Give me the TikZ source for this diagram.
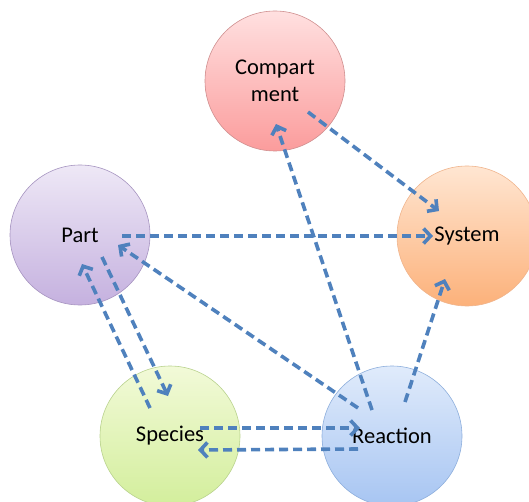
\documentclass[tikz,border=0pt]{standalone}
\usepackage{fontspec}
\setmainfont{Carlito}
\usetikzlibrary{arrows.meta,calc}

\definecolor{linkblue}{HTML}{4F81BD}
% fills (top / bottom of each gradient) and outlines
\definecolor{compTop}{HTML}{FFE0E0}
\definecolor{compBot}{HTML}{FB9C9C}
\definecolor{compLine}{HTML}{CF8F8F}
\definecolor{partTop}{HTML}{EEE8F6}
\definecolor{partBot}{HTML}{C5B1DF}
\definecolor{partLine}{HTML}{A694C0}
\definecolor{sysTop}{HTML}{FFE6D2}
\definecolor{sysBot}{HTML}{FCB17A}
\definecolor{sysLine}{HTML}{F0B48C}
\definecolor{specTop}{HTML}{F2FAD8}
\definecolor{specBot}{HTML}{D3EE9C}
\definecolor{specLine}{HTML}{B9D28E}
\definecolor{reacTop}{HTML}{E0EBFB}
\definecolor{reacBot}{HTML}{A7C5F2}
\definecolor{reacLine}{HTML}{8DAEDC}

\tikzset{
  entity/.style={circle, minimum size=140pt, inner sep=0pt, line width=0.6pt,
    font=\fontsize{22.5}{27}\selectfont, align=center},
  link/.style={draw=linkblue, line width=3.6pt, dash pattern=on 9pt off 5pt,
    -{Straight Barb[length=7pt,width=15pt]}},
}

\begin{document}
\begin{tikzpicture}[x=1pt,y=-1pt]
  \useasboundingbox (0,0) rectangle (529,502);
  \clip (0,0) rectangle (529,502);

  % the five entity circles, each with a soft vertical gradient
  \node[entity, draw=compLine, top color=compTop, bottom color=compBot]
    (comp) at (275,81) {Compart\\ment};
  \node[entity, draw=partLine, top color=partTop, bottom color=partBot]
    (part) at (80,235) {Part};
  \node[entity, draw=sysLine, top color=sysTop, bottom color=sysBot]
    (sys) at (467,236) {System};
  \node[entity, draw=specLine, top color=specTop, bottom color=specBot]
    (spec) at (170,436) {Species};
  \node[entity, draw=reacLine, top color=reacTop, bottom color=reacBot]
    (reac) at (392,436) {Reaction};

  % relations between the entities
  \draw[link] ($(comp)+(33,31)$)  -- ($(sys)+(-28,-25)$);
  \draw[link] ($(part)+(42,1)$)   -- ($(sys)+(-34,0)$);
  \draw[link] ($(reac)+(-20,-26)$) -- ($(comp)+(1,43)$);
  \draw[link] ($(reac)+(-34,-28)$) -- ($(part)+(38,10)$);
  \draw[link] ($(reac)+(13,-34)$) -- ($(sys)+(-22,43)$);
  \draw[link] ($(part)+(22,22)$)  -- ($(spec)+(-2,-40)$);
  \draw[link] ($(spec)+(-20,-28)$) -- ($(part)+(2,29)$);
  \draw[link] ($(spec)+(30,-8)$)  -- ($(reac)+(-32,-8)$);
  \draw[link] ($(reac)+(-34,13)$) -- ($(spec)+(28,14)$);
\end{tikzpicture}
\end{document}
